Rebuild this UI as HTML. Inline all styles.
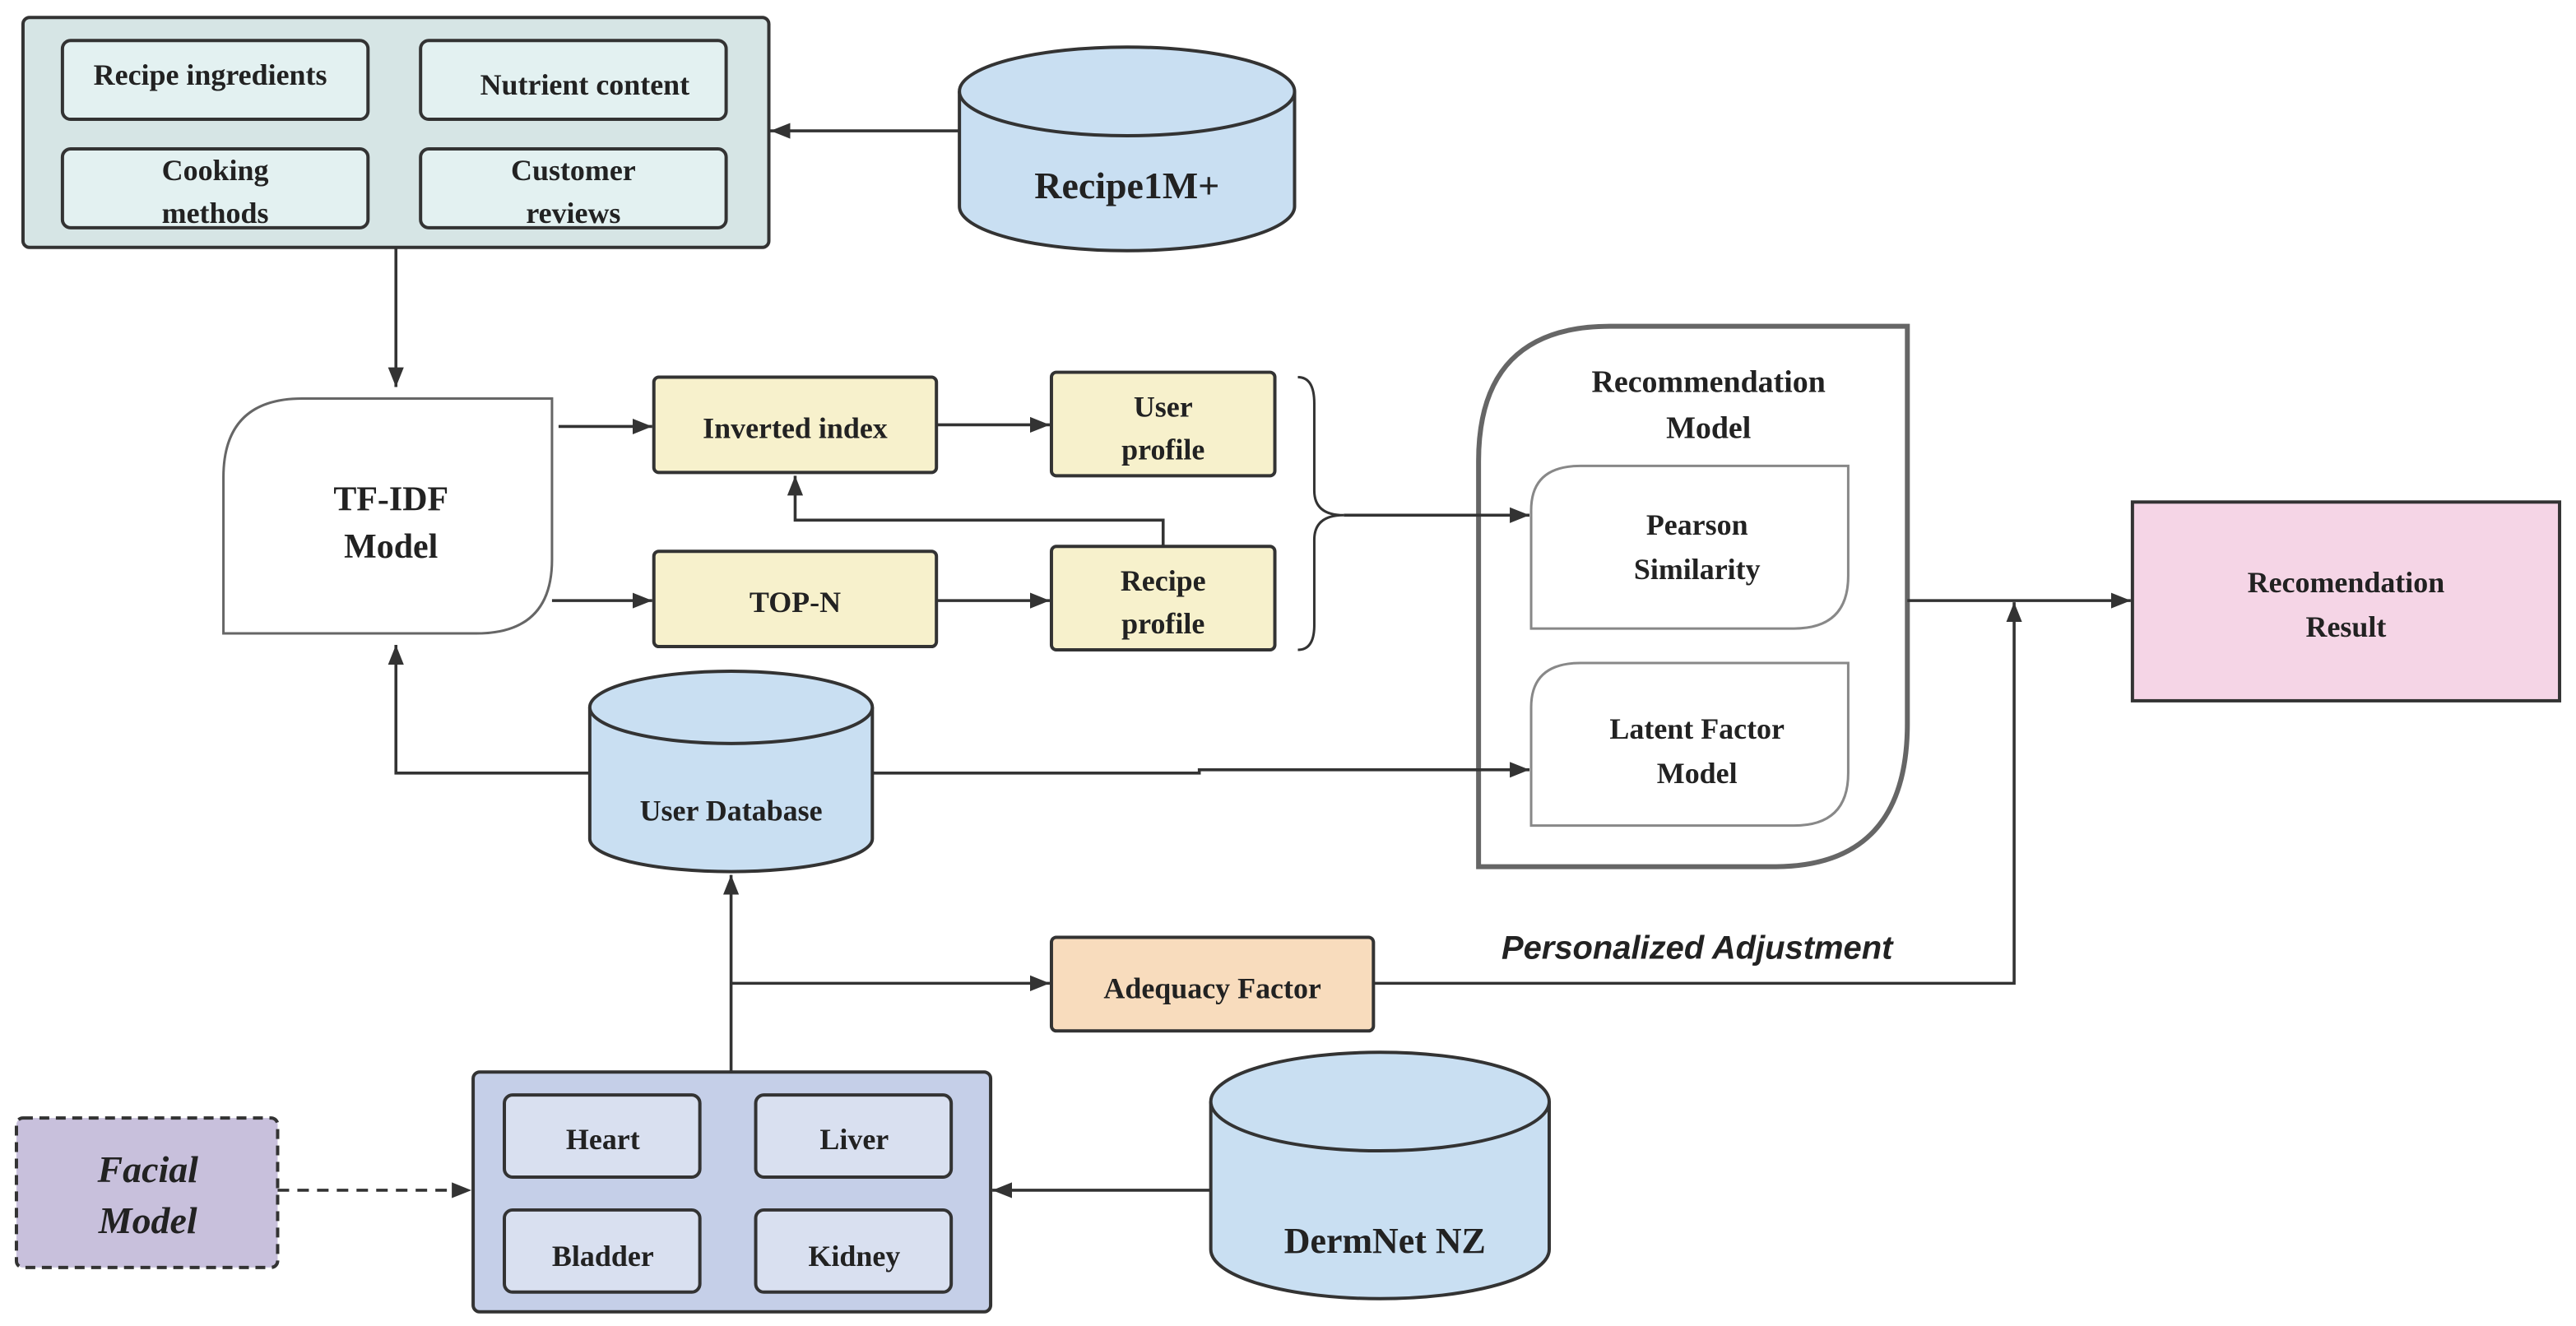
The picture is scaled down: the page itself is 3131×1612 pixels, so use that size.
<!DOCTYPE html>
<html><head><meta charset="utf-8"><style>
html,body{margin:0;padding:0;background:#fff;}
svg{display:block;}
text{font-family:"Liberation Serif",serif;font-weight:bold;fill:#222;text-anchor:middle;}
</style></head><body>
<svg width="3131" height="1612" viewBox="0 0 1568 806" xmlns="http://www.w3.org/2000/svg">
<defs>
<marker id="b" viewBox="0 0 10 10" refX="10" refY="5" markerWidth="12" markerHeight="12" orient="auto" markerUnits="userSpaceOnUse">
<path d="M0,1 L10,5 L0,9 z" fill="#333"/></marker>
</defs>
<g stroke="#333" fill="none" stroke-width="2">
<rect x="14" y="10" width="454" height="140" rx="4" fill="#d6e5e5"/>
<rect x="38" y="24" width="186" height="48" rx="5" fill="#e3f1f1"/>
<rect x="256" y="24" width="186" height="48" rx="5" fill="#e3f1f1"/>
<rect x="38" y="90" width="186" height="48" rx="5" fill="#e3f1f1"/>
<rect x="256" y="90" width="186" height="48" rx="5" fill="#e3f1f1"/>
<path d="M584,55 L584,125 A102,27 0 0 0 788,125 L788,55" fill="#c9dff2"/>
<ellipse cx="686" cy="55" rx="102" ry="27" fill="#c9dff2"/>
<path d="M136,385 L136,290 Q136,242 184,242 L336,242 L336,340 Q336,385 290,385 Z" fill="#fff" stroke="#666" stroke-width="1.5"/>
<rect x="398" y="229" width="172" height="58" rx="3" fill="#f7f1cc"/>
<rect x="640" y="226" width="136" height="63" rx="3" fill="#f7f1cc"/>
<rect x="398" y="335" width="172" height="58" rx="3" fill="#f7f1cc"/>
<rect x="640" y="332" width="136" height="63" rx="3" fill="#f7f1cc"/>
<path d="M790,229 Q800,229 800,245 L800,298 Q800,313 818,313 Q800,313 800,328 L800,380 Q800,395 790,395" stroke-width="1.5"/>
<path d="M900,527 L900,280 Q900,198 980,198 L1161,198 L1161,440 Q1161,527 1080,527 Z" fill="#fff" stroke="#666" stroke-width="3"/>
<path d="M932,382 L932,310 Q932,283 962,283 L1125,283 L1125,350 Q1125,382 1092,382 Z" fill="#fff" stroke="#888" stroke-width="1.5"/>
<path d="M932,502 L932,430 Q932,403 962,403 L1125,403 L1125,470 Q1125,502 1092,502 Z" fill="#fff" stroke="#888" stroke-width="1.5"/>
<rect x="1298" y="305" width="260" height="121" fill="#f5d5e6"/>
<path d="M359,430 L359,510 A86,20 0 0 0 531,510 L531,430" fill="#c9dff2"/>
<ellipse cx="445" cy="430" rx="86" ry="22" fill="#c9dff2"/>
<rect x="640" y="570" width="196" height="57" rx="3" fill="#f8dcbd"/>
<rect x="288" y="652" width="315" height="146" rx="4" fill="#c5cfe8"/>
<rect x="307" y="666" width="119" height="50" rx="5" fill="#d9e0f0"/>
<rect x="460" y="666" width="119" height="50" rx="5" fill="#d9e0f0"/>
<rect x="307" y="736" width="119" height="50" rx="5" fill="#d9e0f0"/>
<rect x="460" y="736" width="119" height="50" rx="5" fill="#d9e0f0"/>
<rect x="10" y="680" width="159" height="91" rx="4" fill="#c8c0dc" stroke-dasharray="6,4"/>
<path d="M737,670 L737,760 A103,30 0 0 0 943,760 L943,670" fill="#c9dff2"/>
<ellipse cx="840" cy="670" rx="103" ry="30" fill="#c9dff2"/>
</g>
<g stroke="#333" fill="none" stroke-width="1.8">
<path d="M584,79 L469,79" marker-end="url(#b)"/>
<path d="M241,150 L241,235" marker-end="url(#b)"/>
<path d="M340,259 L397,259" marker-end="url(#b)"/>
<path d="M570,258 L639,258" marker-end="url(#b)"/>
<path d="M336,365 L397,365" marker-end="url(#b)"/>
<path d="M570,365 L639,365" marker-end="url(#b)"/>
<path d="M708,332 L708,316 L484,316 L484,289" marker-end="url(#b)"/>
<path d="M818,313 L931,313" marker-end="url(#b)"/>
<path d="M1161,365 L1297,365" marker-end="url(#b)"/>
<path d="M836,598 L1226,598 L1226,366" marker-end="url(#b)"/>
<path d="M359,470 L241,470 L241,392" marker-end="url(#b)"/>
<path d="M531,470 L730,470 L730,468 L931,468" marker-end="url(#b)"/>
<path d="M445,652 L445,532" marker-end="url(#b)"/>
<path d="M445,598 L639,598" marker-end="url(#b)"/>
<path d="M737,724 L604,724" marker-end="url(#b)"/>
<path d="M169,724 L287,724" stroke-dasharray="7,5" marker-end="url(#b)"/>
</g>
<g font-size="18">
<text x="128" y="51">Recipe ingredients</text>
<text x="356" y="57">Nutrient content</text>
<text x="131" y="109">Cooking</text><text x="131" y="135">methods</text>
<text x="349" y="109">Customer</text><text x="349" y="135">reviews</text>
<text x="686" y="120" font-size="23">Recipe1M+</text>
<text x="238" y="310" font-size="21">TF-IDF</text>
<text x="238" y="339" font-size="21">Model</text>
<text x="484" y="266">Inverted index</text>
<text x="708" y="253">User</text><text x="708" y="279">profile</text>
<text x="484" y="372">TOP-N</text>
<text x="708" y="359">Recipe</text><text x="708" y="385">profile</text>
<text x="1040" y="238" font-size="19">Recommendation</text>
<text x="1040" y="266" font-size="19">Model</text>
<text x="1033" y="325">Pearson</text><text x="1033" y="352">Similarity</text>
<text x="1033" y="449">Latent Factor</text><text x="1033" y="476">Model</text>
<text x="1428" y="360">Recomendation</text><text x="1428" y="387">Result</text>
<text x="445" y="499">User Database</text>
<text x="738" y="607">Adequacy Factor</text>
<text x="1033" y="583" style="font-family:'Liberation Sans',sans-serif;font-style:italic" font-size="20" fill="#333">Personalized Adjustment</text>
<text x="367" y="699">Heart</text><text x="520" y="699">Liver</text>
<text x="367" y="770">Bladder</text><text x="520" y="770">Kidney</text>
<text x="90" y="719" font-size="23" font-style="italic" fill="#333">Facial</text>
<text x="90" y="750" font-size="23" font-style="italic" fill="#333">Model</text>
<text x="843" y="762" font-size="22">DermNet NZ</text>
</g>
</svg>
</body></html>
